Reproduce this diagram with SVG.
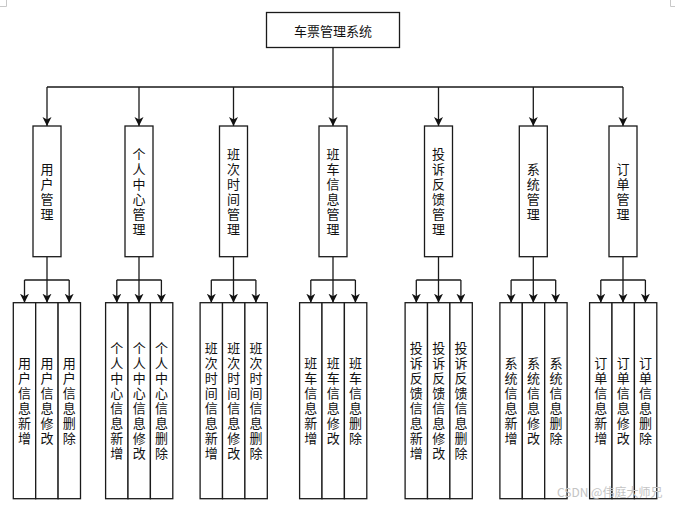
<svg xmlns="http://www.w3.org/2000/svg" width="675" height="507" viewBox="0 0 675 507">
<style>
.box{fill:#fff;stroke:#1a1a1a;stroke-width:1.3}
.ln{fill:none;stroke:#1a1a1a;stroke-width:1.3}
.arr{marker-end:url(#ah)}
text{font-family:"Noto Sans CJK SC","Liberation Sans",sans-serif;font-size:13px;fill:#111}
.v{writing-mode:vertical-rl;text-anchor:middle;letter-spacing:2px}
.wm{font-size:12px;fill:#c4c4c4}
.corner{fill:none;stroke:#c8c8c8;stroke-width:1}
</style>
<defs>
<marker id="ah" markerUnits="userSpaceOnUse" markerWidth="10" markerHeight="10" refX="9" refY="4.5" orient="auto">
<path d="M9,4.5 L0,0 L2.5,4.5 L0,9 Z" fill="#111"/>
</marker>
</defs>
<rect width="675" height="507" fill="#fff"/>
<path class="corner" d="M0,6.5 H6.5 V0 M670.5,0 V6.5 H675"/>

<g id="connectors">
<path class="ln" d="M333,47.5 V87 M47,87 H623"/>
<path class="ln arr" d="M47,87 V126"/>
<path class="ln arr" d="M139,87 V126"/>
<path class="ln arr" d="M233.5,87 V126"/>
<path class="ln arr" d="M333,87 V126"/>
<path class="ln arr" d="M438.5,87 V126"/>
<path class="ln arr" d="M533.3,87 V126"/>
<path class="ln arr" d="M623,87 V126"/>

<path class="ln" d="M24.5,280 H69.2"/>
<path class="ln arr" d="M24.5,280 V302.7"/><path class="ln arr" d="M47,257 V302.7"/><path class="ln arr" d="M69.2,280 V302.7"/>
<path class="ln" d="M116.8,280 H161.4"/>
<path class="ln arr" d="M116.8,280 V302.7"/><path class="ln arr" d="M139,257 V302.7"/><path class="ln arr" d="M161.4,280 V302.7"/>
<path class="ln" d="M211.3,280 H255.9"/>
<path class="ln arr" d="M211.3,280 V302.7"/><path class="ln arr" d="M233.5,257 V302.7"/><path class="ln arr" d="M255.9,280 V302.7"/>
<path class="ln" d="M310.8,280 H355.4"/>
<path class="ln arr" d="M310.8,280 V302.7"/><path class="ln arr" d="M333,257 V302.7"/><path class="ln arr" d="M355.4,280 V302.7"/>
<path class="ln" d="M416.3,280 H460.9"/>
<path class="ln arr" d="M416.3,280 V302.7"/><path class="ln arr" d="M438.5,257 V302.7"/><path class="ln arr" d="M460.9,280 V302.7"/>
<path class="ln" d="M511.1,280 H555.7"/>
<path class="ln arr" d="M511.1,280 V302.7"/><path class="ln arr" d="M533.3,257 V302.7"/><path class="ln arr" d="M555.7,280 V302.7"/>
<path class="ln" d="M600.8,280 H645.4"/>
<path class="ln arr" d="M600.8,280 V302.7"/><path class="ln arr" d="M623,257 V302.7"/><path class="ln arr" d="M645.4,280 V302.7"/>
</g>

<g id="root">
<rect class="box" x="266.5" y="12.5" width="133" height="35"/>
<text x="333" y="30" text-anchor="middle" dominant-baseline="central">车票管理系统</text>
</g>

<g id="m1"><rect class="box" x="33" y="126" width="28" height="130.7"/><text class="v" x="47" y="192.3">用户管理</text></g>
<g id="m2"><rect class="box" x="125" y="126" width="28" height="130.7"/><text class="v" x="139" y="192.3">个人中心管理</text></g>
<g id="m3"><rect class="box" x="219.5" y="126" width="28" height="130.7"/><text class="v" x="233.5" y="192.3">班次时间管理</text></g>
<g id="m4"><rect class="box" x="319" y="126" width="28" height="130.7"/><text class="v" x="333" y="192.3">班车信息管理</text></g>
<g id="m5"><rect class="box" x="424.5" y="126" width="28" height="130.7"/><text class="v" x="438.5" y="192.3">投诉反馈管理</text></g>
<g id="m6"><rect class="box" x="519.3" y="126" width="28" height="130.7"/><text class="v" x="533.3" y="192.3">系统管理</text></g>
<g id="m7"><rect class="box" x="609" y="126" width="28" height="130.7"/><text class="v" x="623" y="192.3">订单管理</text></g>

<g id="l1a"><rect class="box" x="13.3" y="302.7" width="22.4" height="196"/><text class="v" x="24.5" y="401.7">用户信息新增</text></g>
<g id="l1b"><rect class="box" x="35.7" y="302.7" width="22.4" height="196"/><text class="v" x="46.9" y="401.7">用户信息修改</text></g>
<g id="l1c"><rect class="box" x="58.1" y="302.7" width="22.4" height="196"/><text class="v" x="69.3" y="401.7">用户信息删除</text></g>

<g id="l2a"><rect class="box" x="105.6" y="302.7" width="22.4" height="196"/><text class="v" x="116.8" y="401.7">个人中心信息新增</text></g>
<g id="l2b"><rect class="box" x="128" y="302.7" width="22.4" height="196"/><text class="v" x="139.2" y="401.7">个人中心信息修改</text></g>
<g id="l2c"><rect class="box" x="150.4" y="302.7" width="22.4" height="196"/><text class="v" x="161.6" y="401.7">个人中心信息删除</text></g>

<g id="l3a"><rect class="box" x="200.1" y="302.7" width="22.4" height="196"/><text class="v" x="211.3" y="401.7">班次时间信息新增</text></g>
<g id="l3b"><rect class="box" x="222.5" y="302.7" width="22.4" height="196"/><text class="v" x="233.7" y="401.7">班次时间信息修改</text></g>
<g id="l3c"><rect class="box" x="244.9" y="302.7" width="22.4" height="196"/><text class="v" x="256.1" y="401.7">班次时间信息删除</text></g>

<g id="l4a"><rect class="box" x="299.6" y="302.7" width="22.4" height="196"/><text class="v" x="310.8" y="401.7">班车信息新增</text></g>
<g id="l4b"><rect class="box" x="322" y="302.7" width="22.4" height="196"/><text class="v" x="333.2" y="401.7">班车信息修改</text></g>
<g id="l4c"><rect class="box" x="344.4" y="302.7" width="22.4" height="196"/><text class="v" x="355.6" y="401.7">班车信息删除</text></g>

<g id="l5a"><rect class="box" x="405.1" y="302.7" width="22.4" height="196"/><text class="v" x="416.3" y="401.7">投诉反馈信息新增</text></g>
<g id="l5b"><rect class="box" x="427.5" y="302.7" width="22.4" height="196"/><text class="v" x="438.7" y="401.7">投诉反馈信息修改</text></g>
<g id="l5c"><rect class="box" x="449.9" y="302.7" width="22.4" height="196"/><text class="v" x="461.1" y="401.7">投诉反馈信息删除</text></g>

<g id="l6a"><rect class="box" x="499.9" y="302.7" width="22.4" height="196"/><text class="v" x="511.1" y="401.7">系统信息新增</text></g>
<g id="l6b"><rect class="box" x="522.3" y="302.7" width="22.4" height="196"/><text class="v" x="533.5" y="401.7">系统信息修改</text></g>
<g id="l6c"><rect class="box" x="544.7" y="302.7" width="22.4" height="196"/><text class="v" x="555.9" y="401.7">系统信息删除</text></g>

<g id="l7a"><rect class="box" x="589.6" y="302.7" width="22.4" height="196"/><text class="v" x="600.8" y="401.7">订单信息新增</text></g>
<g id="l7b"><rect class="box" x="612" y="302.7" width="22.4" height="196"/><text class="v" x="623.2" y="401.7">订单信息修改</text></g>
<g id="l7c"><rect class="box" x="634.4" y="302.7" width="22.4" height="196"/><text class="v" x="645.6" y="401.7">订单信息删除</text></g>

<text class="wm" x="557" y="497">CSDN @伟庭大师兄</text>
</svg>
